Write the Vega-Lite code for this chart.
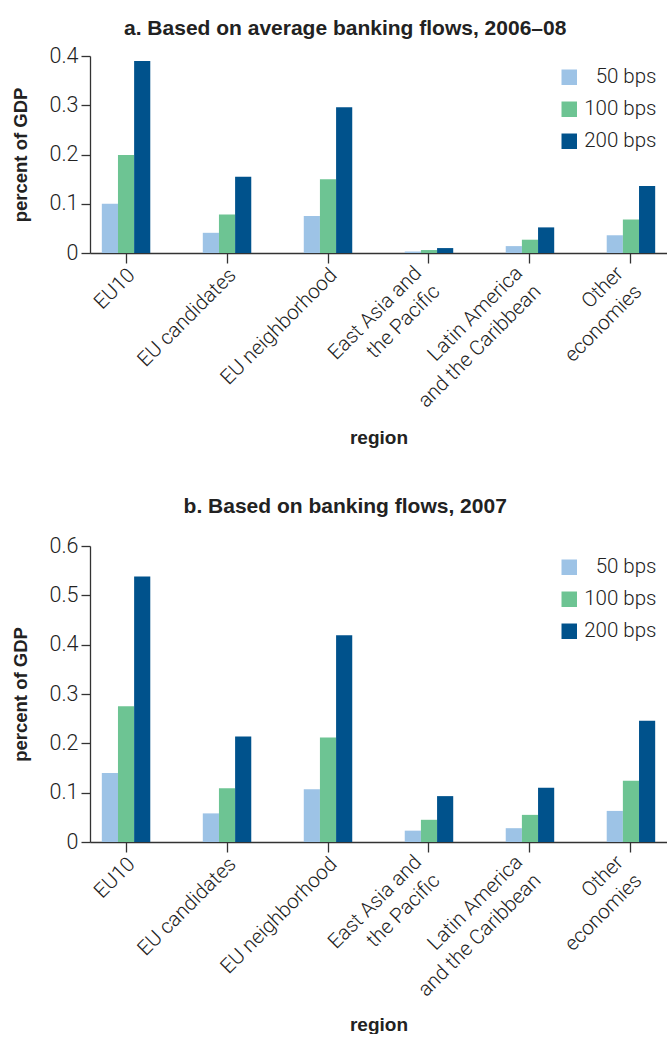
{
  "$schema": "https://vega.github.io/schema/vega-lite/v6.json",
  "padding": {"left": 11, "top": 18, "right": 0, "bottom": 0},
  "background": "white",
  "datasets": {
    "a": [
      {"region": "EU10", "rate": "50 bps", "value": 0.100},
      {"region": "EU10", "rate": "100 bps", "value": 0.199},
      {"region": "EU10", "rate": "200 bps", "value": 0.390},
      {"region": "EU candidates", "rate": "50 bps", "value": 0.041},
      {"region": "EU candidates", "rate": "100 bps", "value": 0.078},
      {"region": "EU candidates", "rate": "200 bps", "value": 0.155},
      {"region": "EU neighborhood", "rate": "50 bps", "value": 0.075},
      {"region": "EU neighborhood", "rate": "100 bps", "value": 0.150},
      {"region": "EU neighborhood", "rate": "200 bps", "value": 0.296},
      {"region": "East Asia and the Pacific", "rate": "50 bps", "value": 0.003},
      {"region": "East Asia and the Pacific", "rate": "100 bps", "value": 0.006},
      {"region": "East Asia and the Pacific", "rate": "200 bps", "value": 0.010},
      {"region": "Latin America and the Caribbean", "rate": "50 bps", "value": 0.014},
      {"region": "Latin America and the Caribbean", "rate": "100 bps", "value": 0.027},
      {"region": "Latin America and the Caribbean", "rate": "200 bps", "value": 0.052},
      {"region": "Other economies", "rate": "50 bps", "value": 0.036},
      {"region": "Other economies", "rate": "100 bps", "value": 0.068},
      {"region": "Other economies", "rate": "200 bps", "value": 0.136}
    ],
    "b": [
      {"region": "EU10", "rate": "50 bps", "value": 0.140},
      {"region": "EU10", "rate": "100 bps", "value": 0.275},
      {"region": "EU10", "rate": "200 bps", "value": 0.538},
      {"region": "EU candidates", "rate": "50 bps", "value": 0.058},
      {"region": "EU candidates", "rate": "100 bps", "value": 0.109},
      {"region": "EU candidates", "rate": "200 bps", "value": 0.214},
      {"region": "EU neighborhood", "rate": "50 bps", "value": 0.107},
      {"region": "EU neighborhood", "rate": "100 bps", "value": 0.212},
      {"region": "EU neighborhood", "rate": "200 bps", "value": 0.419},
      {"region": "East Asia and the Pacific", "rate": "50 bps", "value": 0.023},
      {"region": "East Asia and the Pacific", "rate": "100 bps", "value": 0.045},
      {"region": "East Asia and the Pacific", "rate": "200 bps", "value": 0.093},
      {"region": "Latin America and the Caribbean", "rate": "50 bps", "value": 0.028},
      {"region": "Latin America and the Caribbean", "rate": "100 bps", "value": 0.055},
      {"region": "Latin America and the Caribbean", "rate": "200 bps", "value": 0.110},
      {"region": "Other economies", "rate": "50 bps", "value": 0.063},
      {"region": "Other economies", "rate": "100 bps", "value": 0.124},
      {"region": "Other economies", "rate": "200 bps", "value": 0.246}
    ]
  },
  "config": {
    "view": {"stroke": null},
    "font": "Liberation Sans",
    "axis": {
      "domainColor": "#333333",
      "domainWidth": 1.3,
      "tickColor": "#333333",
      "tickWidth": 1.3,
      "grid": false,
      "labelFont": "Roboto",
      "labelFontWeight": 300,
      "labelColor": "#222222",
      "titleFont": "Liberation Sans",
      "titleFontWeight": "bold",
      "titleColor": "#222222"
    },
    "legend": {
      "labelFont": "Roboto",
      "labelFontWeight": 300,
      "labelFontSize": 20.5,
      "labelColor": "#222222"
    },
    "title": {
      "font": "Liberation Sans",
      "fontSize": 21,
      "fontWeight": "bold",
      "color": "#222222",
      "anchor": "middle",
      "frame": "bounds",
      "dx": 6
    }
  },
  "resolve": {"scale": {"y": "independent"}, "legend": {"color": "independent"}},
  "spacing": 49,
  "vconcat": [
    {
      "width": 577,
      "height": 197,
      "title": {"text": "a. Based on average banking flows, 2006–08", "offset": 6},
      "data": {"name": "a"},
      "mark": {"type": "bar"},
      "encoding": {
        "x": {
          "field": "region", "type": "nominal",
          "sort": ["EU10", "EU candidates", "EU neighborhood", "East Asia and the Pacific", "Latin America and the Caribbean", "Other economies"],
          "scale": {"paddingInner": 0.52, "paddingOuter": 0.117},
          "axis": {
            "labelAngle": -45, "tickSize": 10, "labelFontSize": 20.5, "labelBaseline": "alphabetic", "labelLineHeight": 26,
            "labelPadding": {"condition": {"test": "indexof(['East Asia and the Pacific', 'Latin America and the Caribbean', 'Other economies'], datum.value) >= 0", "value": 11}, "value": 13},
            "labelOffset": {"condition": {"test": "indexof(['East Asia and the Pacific', 'Latin America and the Caribbean', 'Other economies'], datum.value) >= 0", "value": -6.5}, "value": 10},
            "labelExpr": "datum.value == 'East Asia and the Pacific' ? ['East Asia and', 'the  Pacific'] : datum.value == 'Latin America and the Caribbean' ? ['Latin America', 'and the Caribbean'] : datum.value == 'Other economies' ? ['Other', 'economies'] : datum.label",
            "title": "region", "titleFontSize": 19, "titleY": 190, "titleBaseline": "alphabetic"
          }
        },
        "xOffset": {"field": "rate", "type": "nominal", "sort": ["50 bps", "100 bps", "200 bps"], "scale": {"paddingInner": 0, "paddingOuter": 0}},
        "y": {
          "field": "value", "type": "quantitative",
          "scale": {"domain": [0, 0.4], "nice": false},
          "axis": {
            "values": [0, 0.1, 0.2, 0.3, 0.4], "format": ".1~f", "tickSize": 9, "labelPadding": 3, "labelFontSize": 21.5,
            "title": "percent of GDP", "titleFontSize": 18.5, "titleX": -63.6, "titleY": 98.5,
            "titleBaseline": "alphabetic", "titleAngle": 270, "titleAlign": "center"
          }
        },
        "color": {
          "field": "rate", "type": "nominal",
          "scale": {"domain": ["50 bps", "100 bps", "200 bps"], "range": ["#9DC3E6", "#6DC493", "#00528C"]},
          "legend": {
            "title": null, "orient": "none", "legendX": 469, "legendY": 11, "padding": 0,
            "symbolType": "square", "symbolSize": 240, "symbolStrokeWidth": 0,
            "labelAlign": "right", "labelOffset": 77, "rowPadding": 11
          }
        }
      }
    },
    {
      "width": 577,
      "height": 296,
      "title": {"text": "b. Based on banking flows, 2007", "offset": 18},
      "data": {"name": "b"},
      "mark": {"type": "bar"},
      "encoding": {
        "x": {
          "field": "region", "type": "nominal",
          "sort": ["EU10", "EU candidates", "EU neighborhood", "East Asia and the Pacific", "Latin America and the Caribbean", "Other economies"],
          "scale": {"paddingInner": 0.52, "paddingOuter": 0.117},
          "axis": {
            "labelAngle": -45, "tickSize": 10, "labelFontSize": 20.5, "labelBaseline": "alphabetic", "labelLineHeight": 26,
            "labelPadding": {"condition": {"test": "indexof(['East Asia and the Pacific', 'Latin America and the Caribbean', 'Other economies'], datum.value) >= 0", "value": 11}, "value": 13},
            "labelOffset": {"condition": {"test": "indexof(['East Asia and the Pacific', 'Latin America and the Caribbean', 'Other economies'], datum.value) >= 0", "value": -6.5}, "value": 10},
            "labelExpr": "datum.value == 'East Asia and the Pacific' ? ['East Asia and', 'the  Pacific'] : datum.value == 'Latin America and the Caribbean' ? ['Latin America', 'and the Caribbean'] : datum.value == 'Other economies' ? ['Other', 'economies'] : datum.label",
            "title": "region", "titleFontSize": 19, "titleY": 188, "titleBaseline": "alphabetic"
          }
        },
        "xOffset": {"field": "rate", "type": "nominal", "sort": ["50 bps", "100 bps", "200 bps"], "scale": {"paddingInner": 0, "paddingOuter": 0}},
        "y": {
          "field": "value", "type": "quantitative",
          "scale": {"domain": [0, 0.6], "nice": false},
          "axis": {
            "values": [0, 0.1, 0.2, 0.3, 0.4, 0.5, 0.6], "format": ".1~f", "tickSize": 9, "labelPadding": 3, "labelFontSize": 21.5,
            "title": "percent of GDP", "titleFontSize": 18.5, "titleX": -63.6, "titleY": 148,
            "titleBaseline": "alphabetic", "titleAngle": 270, "titleAlign": "center"
          }
        },
        "color": {
          "field": "rate", "type": "nominal",
          "scale": {"domain": ["50 bps", "100 bps", "200 bps"], "range": ["#9DC3E6", "#6DC493", "#00528C"]},
          "legend": {
            "title": null, "orient": "none", "legendX": 469, "legendY": 11, "padding": 0,
            "symbolType": "square", "symbolSize": 240, "symbolStrokeWidth": 0,
            "labelAlign": "right", "labelOffset": 77, "rowPadding": 11
          }
        }
      }
    }
  ]
}
